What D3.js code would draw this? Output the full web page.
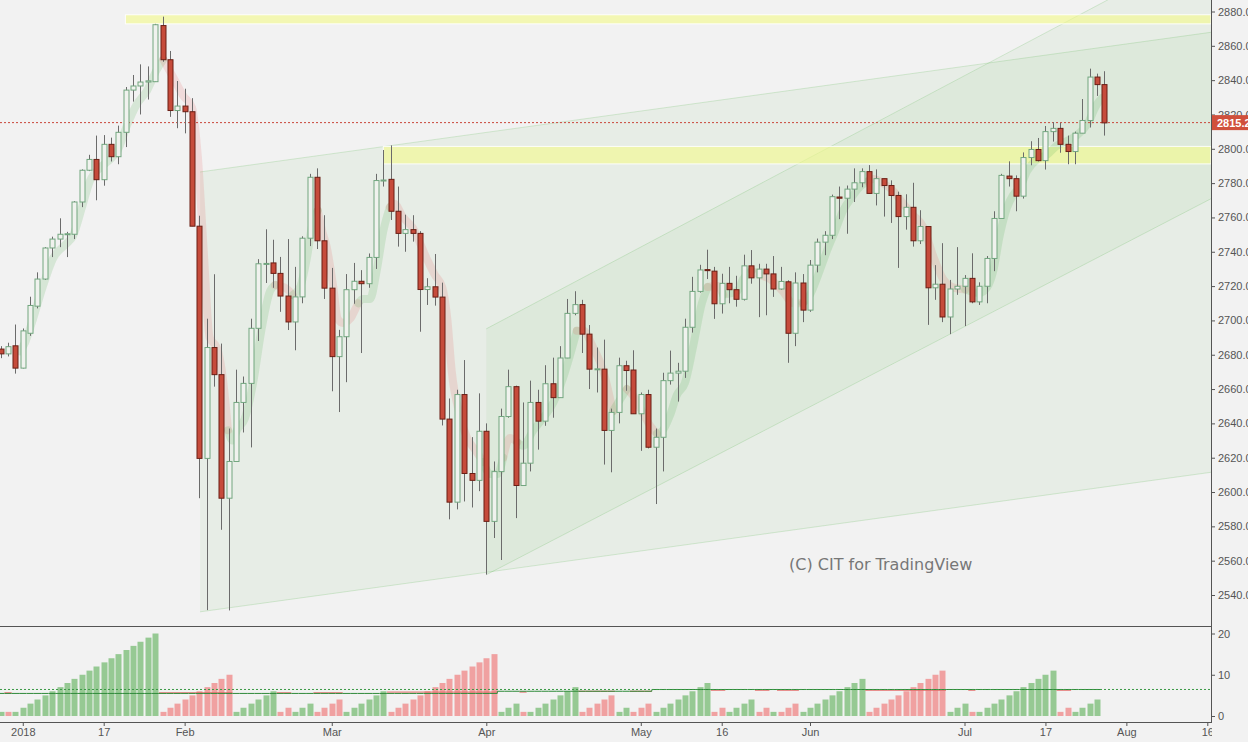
<!DOCTYPE html>
<html><head><meta charset="utf-8">
<script src="https://cdn.jsdelivr.net/npm/d3@7"></script>
<style>html,body{margin:0;padding:0;background:#f2f2f2;overflow:hidden}</style>
</head><body><svg id="c" width="1248" height="742"></svg>
<script>
// ---------- DATA ----------
const opens = [2683.3,2680.5,2685.2,2672.2,2692.5,2708.3,2724.1,2742.2,2747.4,2750.0,
2750.2,2769.0,2787.5,2793.8,2782.0,2802.6,2795.4,2809.6,2834.2,2836.6,
2838.9,2839.1,2871.8,2851.9,2822.3,2824.9,2821.6,2754.9,2619.6,2684.2,
2668.4,2596.4,2617.8,2652.2,2663.3,2695.4,2732.8,2733.5,2727.4,2714.2,
2699.1,2713.7,2747.9,2783.4,2746.4,2718.8,2678.9,2690.5,2717.9,2722.8,
2721.4,2736.7,2781.5,2782.2,2763.6,2750.7,2752.9,2750.7,2718.0,2719.6,
2713.6,2642.5,2594.1,2656.8,2610.8,2606.8,2635.4,2582.9,2611.9,2644.0,
2661.4,2603.8,2616.8,2652.2,2641.3,2663.1,2655.0,2678.1,2704.1,2709.2,
2692.0,2671.6,2671.6,2635.9,2646.4,2673.6,2671.1,2645.6,2656.8,2626.1,
2631.9,2664.9,2669.3,2670.4,2696.0,2716.9,2729.6,2728.7,2709.7,2721.6,
2717.9,2712.3,2731.8,2724.8,2729.9,2727.1,2718.3,2722.5,2692.5,2721.8,
2706.0,2732.2,2745.6,2749.6,2771.9,2771.2,2776.5,2780.2,2786.7,2774.0,
2782.6,2778.6,2772.8,2760.5,2765.9,2746.4,2754.7,2719.0,2721.1,2702.0,
2718.3,2719.9,2724.5,2710.8,2719.9,2736.1,2759.4,2784.1,2782.6,2772.4,
2794.9,2799.6,2793.1,2810.0,2811.9,2802.6,2798.4,2809.1,2816.5,2841.8,
2837.4];
const highs = [2685,2687,2697.6,2695.3,2713.8,2728.0,2742.7,2748.8,2759.5,2751.6,
2769.5,2788.0,2796.5,2807.7,2808.0,2806.5,2813.5,2836.0,2843.0,2849.2,
2848.0,2872.8,2877.0,2857.0,2839.5,2835.0,2829.5,2761.0,2701.0,2726.9,
2686.5,2637.0,2671.3,2667.3,2701.0,2735.7,2753.1,2747.0,2737.0,2747.4,
2731.2,2749.0,2785.4,2788.6,2761.3,2730.6,2694.5,2727.0,2733.5,2729.3,
2739.0,2785.4,2799.3,2802.0,2778.0,2761.6,2761.3,2752.0,2724.6,2738.7,
2722.0,2654.5,2659.6,2676.9,2632.0,2657.5,2640.0,2617.8,2648.6,2671.3,
2662.0,2652.2,2664.9,2659.6,2673.9,2678.3,2685.0,2712.5,2717.0,2712.0,
2697.3,2684.2,2688.8,2648.6,2678.3,2676.5,2682.6,2658.0,2659.6,2637.0,
2669.5,2682.4,2675.3,2701.0,2725.4,2732.4,2741.2,2731.2,2727.2,2731.2,
2726.0,2738.3,2741.0,2733.0,2733.0,2737.5,2731.2,2723.4,2728.0,2727.0,
2735.2,2747.7,2752.0,2773.3,2778.0,2778.6,2788.6,2788.6,2790.5,2788.0,
2782.6,2781.6,2775.0,2773.5,2780.2,2764.2,2754.7,2732.2,2745.0,2723.6,
2742.7,2726.4,2739.1,2722.2,2737.5,2763.6,2785.4,2792.7,2784.5,2797.9,
2804.4,2806.3,2813.3,2815.6,2815.1,2807.7,2810.0,2829.0,2846.7,2843.8,
2845.2];
const lows = [2678,2679,2669.0,2672.0,2691.0,2707.0,2723.6,2736.9,2742.7,2736.9,
2747.4,2766.0,2787.0,2770.0,2778.5,2792.6,2791.0,2801.0,2827.5,2820.0,
2828.7,2839.0,2850.7,2818.6,2812.0,2809.0,2754.9,2596.4,2531.2,2661.4,
2578.0,2531.0,2617.8,2634.7,2626.0,2688.0,2721.8,2719.0,2705.0,2694.4,
2682.6,2710.0,2743.3,2741.6,2712.5,2658.7,2646.6,2664.0,2709.7,2681.0,
2719.0,2730.0,2778.0,2758.5,2743.0,2740.0,2745.9,2693.4,2709.0,2708.6,
2638.8,2584.1,2589.9,2594.5,2591.0,2600.5,2551.9,2573.2,2560.4,2643.3,
2584.8,2603.8,2612.0,2624.7,2638.6,2643.3,2655.0,2678.0,2703.0,2681.0,
2660.0,2658.0,2616.0,2611.5,2640.0,2659.0,2645.6,2624.0,2625.4,2593.0,
2612.0,2662.6,2652.7,2666.5,2692.9,2716.2,2724.1,2700.9,2704.0,2710.0,
2708.0,2711.6,2721.4,2701.9,2703.0,2713.7,2717.9,2675.3,2685.0,2699.0,
2705.0,2728.0,2738.0,2747.4,2759.0,2750.5,2769.0,2777.6,2774.0,2767.0,
2760.5,2756.8,2730.6,2752.9,2743.0,2744.5,2697.4,2712.0,2699.0,2692.0,
2714.9,2696.7,2710.0,2709.0,2710.0,2728.7,2759.4,2778.0,2763.6,2771.0,
2790.4,2792.6,2787.9,2804.2,2797.7,2791.0,2791.0,2809.1,2812.4,2830.8,
2807.7];
const closes = [2680.5,2684.7,2672.2,2693.9,2708.7,2724.1,2742.2,2747.4,2750.2,2750.5,
2769.0,2787.5,2793.8,2782.0,2802.6,2795.4,2809.6,2834.2,2836.6,2838.9,
2839.6,2872.3,2851.9,2822.3,2824.9,2821.6,2754.9,2619.6,2684.2,2668.4,
2596.4,2617.8,2652.2,2663.3,2695.4,2733.0,2733.2,2727.4,2714.2,2699.1,
2713.7,2747.9,2783.4,2746.4,2718.8,2678.9,2690.5,2717.9,2722.8,2721.4,
2736.7,2781.5,2781.8,2763.6,2750.7,2752.9,2750.7,2718.0,2719.6,2713.6,
2642.5,2594.1,2656.8,2610.8,2606.8,2635.4,2582.9,2611.9,2644.0,2661.4,
2603.8,2616.8,2652.2,2641.3,2663.1,2655.0,2678.1,2704.1,2709.2,2692.0,
2671.6,2671.8,2635.9,2646.4,2673.6,2670.8,2645.6,2656.8,2626.1,2631.9,
2664.9,2669.3,2670.4,2696.0,2716.9,2729.4,2729.0,2709.7,2721.6,2717.9,
2712.3,2731.8,2724.8,2729.9,2727.1,2718.3,2722.7,2692.5,2721.8,2706.0,
2732.2,2745.6,2749.6,2772.1,2771.2,2776.5,2780.2,2786.7,2774.0,2782.6,
2778.6,2772.8,2760.5,2765.9,2746.4,2754.7,2719.0,2721.1,2702.0,2718.3,
2719.9,2724.5,2710.8,2719.9,2736.1,2759.4,2784.5,2782.6,2772.4,2794.9,
2799.6,2793.1,2810.0,2811.9,2802.6,2798.4,2809.1,2816.5,2841.8,2837.4,
2815.1];

// trend-count indicator (positive = up run, negative = down run)
const counts = [1,-1,1,2,3,4,5,6,7,8, 9,10,11,12,13,14,15,16,17,18,
19,20,-1,-2,-3,-4,-5,-6,-7,-8, -9,-10,1,2,3,4,5,6,-1,-2,
1,2,3,-1,-2,-3,-4,1,2,3, 4,5,6,-1,-2,-3,-4,-5,-6,-7,
-8,-9,-10,-11,-12,-13,-14,-15,1,2, 3,-1,1,2,3,4,5,6,7,-1,
-2,-3,-4,-5,1,2,-1,-2,-3,1, 2,3,4,5,6,7,8,-1,-2,1,
2,3,4,-1,-2,1,-1,-2,-3,1, 2,3,4,5,6,7,8,9,-1,-2,
-3,-4,-5,-6,-7,-8,-9,-10,-11,1, 2,3,-1,1,2,3,4,5,6,7,
8,9,10,11,-1,-2,1,2,3,4];
const upAvgSteps = [[0,5.47],[68,6.0],[89,6.42]];
const downAvgSteps = [[0,5.62],[53,5.8],[79,6.0],[97,6.25]];
const countLevel = 6.43;

// smoothed trend ribbon: [direction, [[bar index, price], ...]]
const ribbon = [
 ['up',[[2.6,2682],[3.3,2687],[4.4,2701],[5.7,2719.5],[7.1,2736],[9.0,2745],[9.8,2749],[11.05,2766],[12.1,2781],[13.5,2789],[14.9,2794],[15.9,2799],[17.2,2814],[18.5,2826],[19.9,2834],[21.2,2846],[22.1,2852]]],
 ['down',[[22.1,2852],[23.4,2842],[24.8,2831],[26.0,2824],[26.8,2795],[27.6,2740],[28.4,2690],[29.4,2684],[30.2,2666],[30.9,2636]]],
 ['up',[[30.9,2636],[31.5,2630],[32.1,2636],[33.2,2643],[34.3,2663.5],[35.5,2696],[36.6,2717],[37.3,2720.6]]],
 ['down',[[37.3,2720.6],[38.9,2718.3],[39.7,2714.8]]],
 ['up',[[39.7,2714.8],[40.7,2719.5],[41.6,2736],[42.4,2757],[43.1,2764]]],
 ['down',[[43.1,2764],[43.7,2752],[44.3,2743],[45.2,2719.5],[45.8,2701],[46.5,2698.5],[47.5,2701],[48.2,2706.6],[48.6,2710]]],
 ['up',[[48.6,2710],[49.2,2712.5],[50.2,2712.5],[51.1,2729],[52.0,2752],[52.9,2766]]],
 ['down',[[52.9,2766],[53.5,2768],[54.7,2760],[56.0,2754],[57.9,2736],[59.0,2726.5],[60.0,2719.5],[60.7,2701],[61.3,2670.5],[62.4,2645],[63.4,2631.5],[64.5,2624.5],[65.6,2617.5]]],
 ['up',[[65.6,2617.5],[66.5,2610.5],[67.5,2610.5],[68.3,2620]]],
 ['down',[[68.3,2620],[69.2,2631.5],[70.2,2629]]],
 ['up',[[70.2,2629],[71.0,2627],[72.4,2636],[73.7,2643],[75.1,2652],[76.4,2666],[77.7,2684.5],[78.3,2694]]],
 ['down',[[78.3,2694],[79.2,2694],[80.5,2684.5],[81.9,2670.5],[83.2,2647]]],
 ['up',[[83.2,2647],[84.2,2654],[85.1,2660]]],
 ['down',[[85.1,2660],[85.9,2656.5],[87.2,2647],[88.3,2638.4],[89.2,2634]]],
 ['up',[[89.2,2634],[90.0,2636],[91.0,2645],[91.9,2656.5],[93.0,2663.5],[94.1,2684.5],[95.3,2710],[96.1,2719.5]]],
 ['down',[[96.1,2719.5],[97.5,2720],[98.2,2715]]],
 ['up',[[98.2,2715],[100.1,2717],[100.9,2724],[102.1,2729]]],
 ['down',[[102.1,2729],[103.2,2726.5],[104.6,2724],[106.3,2717],[107.7,2710],[109.0,2710]]],
 ['up',[[109.0,2710],[110.0,2715],[111.1,2726.5],[112.3,2740.5],[113.4,2752],[114.5,2764],[115.7,2772],[116.8,2778],[117.8,2781]]],
 ['down',[[117.8,2781],[118.6,2782.4],[119.9,2780],[121.3,2775.4],[122.6,2768.4],[124.0,2761.4],[125.4,2754.4],[126.7,2738],[128.1,2724],[129.3,2719.5],[131.1,2718]]],
 ['up',[[131.1,2718],[133.0,2716],[134.1,2719.5],[134.9,2728.8],[135.8,2749.8],[136.8,2766],[137.6,2773],[138.6,2778],[139.5,2787],[140.9,2794],[142.2,2796.5],[143.6,2802],[144.9,2804.5],[146.3,2808],[147.7,2814.4],[149.0,2826],[149.7,2829.6]]]
];

// drawn channels: [start bar, end bar], upper [start, end] price, lower [start, end] price
const channelBars  = [[27.1,164.5],[66.0,164.5]];
const channelUpper = [[2786.5,2867.9],[2695.1,2918.6]];
const channelLower = [[2530.2,2611.5],[2551.8,2770.9]];
// highlighted zones: start bar, top price, bottom price
const zoneStart = [16.95, 52.0];
const zoneTop = [2878.1, 2801.4];
const zoneBottom = [2872.8, 2791.2];

const lastPrice = 2815.25;
const priceTicks = d3.range(2540, 2881, 20);
const countTicks = [0, 10, 20];
const dateTickBars = [3,14,25,45,66,87,98,110,131,142,153,164];
const dateTickLabels = ['2018','17','Feb','Mar','Apr','May','16','Jun','Jul','17','Aug','16'];

// ---------- DRAWING ----------
const PX = 1211, MAIN_B = 626, LOW_B = 722;
const svg = d3.select('#c');
const x = d3.scaleLinear().domain([0, 150]).range([0.7, 1104.3]);
const y = d3.scaleLinear().domain([2540, 2880]).range([595, 11.5]);
const yc = d3.scaleLinear().domain([0, 20]).range([716, 633.5]);
const FONT = '"Liberation Sans", Arial, sans-serif';

svg.append('rect').attr('width', 1248).attr('height', 742).attr('fill', '#f2f2f2');
const defs = svg.append('defs');
defs.append('clipPath').attr('id', 'cm').append('rect').attr('x', 0).attr('y', 0).attr('width', PX).attr('height', MAIN_B);
defs.append('clipPath').attr('id', 'cl').append('rect').attr('x', 0).attr('y', MAIN_B).attr('width', PX).attr('height', LOW_B - MAIN_B);
defs.append('clipPath').attr('id', 'cb').append('rect').attr('x', 0).attr('y', LOW_B).attr('width', PX + 1).attr('height', 20);

const gm = svg.append('g').attr('clip-path', 'url(#cm)');

// channels
channelBars.forEach((b, k) => {
  const p = [[x(b[0]), y(channelUpper[k][0])], [x(b[1]), y(channelUpper[k][1])],
             [x(b[1]), y(channelLower[k][1])], [x(b[0]), y(channelLower[k][0])]];
  gm.append('polygon').attr('points', p.map(d => d.join(',')).join(' '))
    .attr('fill', 'rgba(90,180,80,0.065)');
  gm.append('line').attr('x1', p[0][0]).attr('y1', p[0][1]).attr('x2', p[1][0]).attr('y2', p[1][1])
    .attr('stroke', 'rgba(90,180,80,0.22)').attr('stroke-width', 1);
  gm.append('line').attr('x1', p[3][0]).attr('y1', p[3][1]).attr('x2', p[2][0]).attr('y2', p[2][1])
    .attr('stroke', 'rgba(90,180,80,0.22)').attr('stroke-width', 1);
});

// zones
zoneStart.forEach((s, k) => {
  gm.append('rect').attr('x', x(s)).attr('y', y(zoneTop[k]))
    .attr('width', PX - x(s)).attr('height', y(zoneBottom[k]) - y(zoneTop[k]))
    .attr('fill', 'rgba(243,250,140,0.62)').attr('stroke', 'rgba(255,255,255,0.9)').attr('stroke-width', 1);
});

// ribbon
const rl = d3.line().x(d => x(d[0])).y(d => y(d[1])).curve(d3.curveMonotoneX);
ribbon.forEach(([dir, pts]) => {
  gm.append('path').attr('d', rl(pts)).attr('fill', 'none')
    .attr('stroke', dir === 'up' ? 'rgba(80,170,80,0.17)' : 'rgba(230,80,80,0.15)')
    .attr('stroke-width', 8).attr('stroke-linecap', 'round').attr('stroke-linejoin', 'round');
});

// last price line
gm.append('line').attr('x1', 0).attr('x2', PX).attr('y1', y(lastPrice)).attr('y2', y(lastPrice))
  .attr('stroke', '#c9463a').attr('stroke-width', 1).attr('stroke-dasharray', '2,2');

// candles
const idx = d3.range(opens.length);
const cx = i => Math.round(x(i)) + 0.5;
gm.append('g').selectAll('line').data(idx).join('line')
  .attr('x1', cx).attr('x2', cx).attr('y1', i => y(highs[i])).attr('y2', i => y(lows[i]))
  .attr('stroke', '#6b6b6b').attr('stroke-width', 1);
gm.append('g').selectAll('rect').data(idx).join('rect')
  .attr('x', i => cx(i) - 2.5).attr('width', 5)
  .attr('y', i => y(Math.max(opens[i], closes[i])))
  .attr('height', i => Math.max(1, Math.abs(y(opens[i]) - y(closes[i]))))
  .attr('fill', i => closes[i] >= opens[i] ? '#f0f2ee' : '#c64b3b')
  .attr('stroke', i => closes[i] >= opens[i] ? '#72a67f' : '#6a1f15')
  .attr('stroke-width', 1);

// watermark
svg.append('text').attr('x', 789).attr('y', 570).text('(C) CIT for TradingView')
  .attr('font-family', '"DejaVu Sans", Verdana, sans-serif').attr('font-size', 16).attr('fill', '#777');

// ---------- lower pane ----------
const gl = svg.append('g').attr('clip-path', 'url(#cl)');
gl.append('g').selectAll('rect').data(counts).join('rect')
  .attr('x', (d, i) => Math.round(x(i)) - 2.5).attr('width', 6)
  .attr('y', d => yc(Math.abs(d))).attr('height', d => yc(0) - yc(Math.abs(d)))
  .attr('fill', d => d > 0 ? '#96c993' : '#f0a1a1');

function stepVal(steps, i) { let v = steps[0][1]; steps.forEach(s => { if (i >= s[0]) v = s[1]; }); return v; }
// red average segments during down runs
let runs = []; let cur = null;
counts.forEach((d, i) => {
  const dir = d > 0 ? 'up' : 'down';
  if (!cur || cur.dir !== dir) { cur = {dir, s: i, e: i}; runs.push(cur); } else cur.e = i;
});
runs.filter(r => r.dir === 'down').forEach(r => {
  const v = stepVal(downAvgSteps, r.s);
  gl.append('line').attr('x1', x(r.s) - 3.6).attr('x2', x(r.e) + 3.6).attr('y1', yc(v)).attr('y2', yc(v))
    .attr('stroke', '#e86a6a').attr('stroke-width', 1);
});
// green average step line
const gpts = [];
counts.forEach((d, i) => { const v = stepVal(upAvgSteps, i); gpts.push([x(i) - 3.6, yc(v)], [x(i) + 3.6, yc(v)]); });
gl.append('path').attr('d', d3.line()(gpts)).attr('fill', 'none').attr('stroke', '#2f8a3a').attr('stroke-width', 1);
gl.append('line').attr('x1', 0).attr('x2', PX).attr('y1', yc(countLevel)).attr('y2', yc(countLevel))
  .attr('stroke', '#3a9a45').attr('stroke-width', 1).attr('stroke-dasharray', '2,2');

// ---------- axes ----------
const axisStyle = g => {
  g.selectAll('text').attr('font-family', FONT).attr('font-size', 11).attr('fill', '#555');
  g.selectAll('line').attr('stroke', '#555');
  g.select('.domain').remove();
};
svg.append('g').attr('transform', `translate(${PX},0)`)
  .call(d3.axisRight(y).tickValues(priceTicks).tickFormat(d3.format('.1f')).tickSize(4).tickPadding(3))
  .call(axisStyle);
svg.append('g').attr('transform', `translate(${PX},0)`)
  .call(d3.axisRight(yc).tickValues(countTicks).tickFormat(d3.format('d')).tickSize(4).tickPadding(3))
  .call(axisStyle);
svg.append('g').attr('clip-path', 'url(#cb)').append('g').attr('transform', `translate(0,${LOW_B})`)
  .call(d3.axisBottom(x).tickValues(dateTickBars).tickFormat((d, i) => dateTickLabels[i]).tickSize(4).tickPadding(2))
  .call(axisStyle);

// frame lines
svg.append('line').attr('x1', PX + 0.5).attr('x2', PX + 0.5).attr('y1', 0).attr('y2', LOW_B).attr('stroke', '#555');
svg.append('line').attr('x1', 0).attr('x2', PX).attr('y1', MAIN_B + 0.5).attr('y2', MAIN_B + 0.5).attr('stroke', '#555');
svg.append('line').attr('x1', 0).attr('x2', PX + 1).attr('y1', LOW_B + 0.5).attr('y2', LOW_B + 0.5).attr('stroke', '#555');

// last price label
const ly = y(lastPrice);
svg.append('rect').attr('x', PX + 1).attr('y', ly - 7.5).attr('width', 1248 - PX - 1).attr('height', 15).attr('fill', '#d0503c');
svg.append('text').attr('x', PX + 6).attr('y', ly + 4).text(d3.format('.2f')(lastPrice))
  .attr('font-family', FONT).attr('font-size', 11).attr('font-weight', 'bold').attr('fill', '#fff');
</script></body></html>
